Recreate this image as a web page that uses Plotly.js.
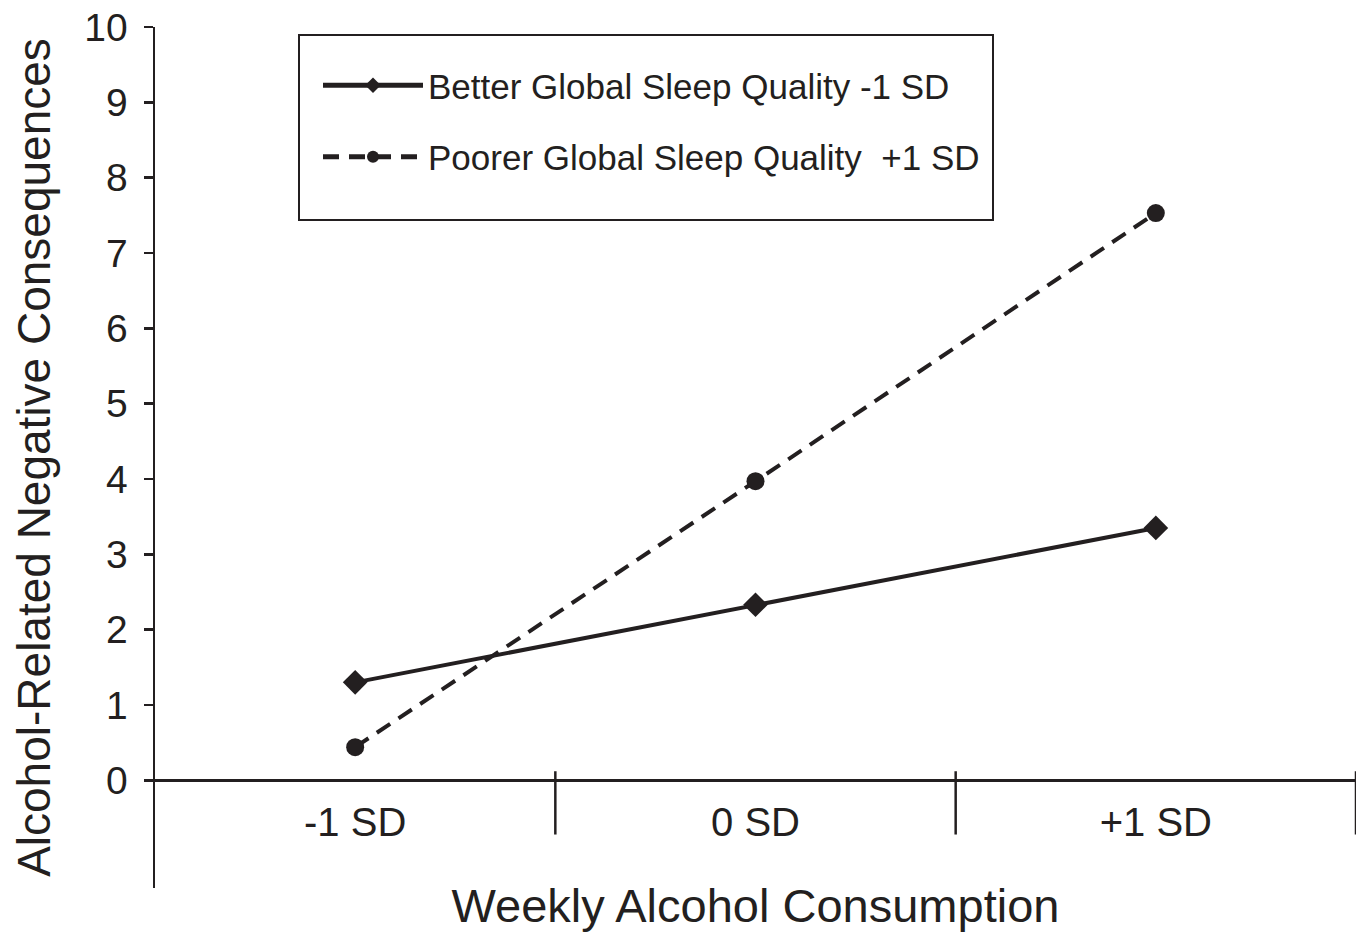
<!DOCTYPE html>
<html>
<head>
<meta charset="utf-8">
<script src="https://cdn.plot.ly/plotly-3.0.1.min.js"></script>
<style>html,body{margin:0;padding:0;background:#fff;}#chart{width:1363px;height:939px;}</style>
</head>
<body>
<div id="chart"></div>
<script>
// Data
const categories = ["-1 SD", "0 SD", "+1 SD"];
const categoryPos = [0, 1, 2];
const betterSleep = [1.30, 2.33, 3.35];
const poorerSleep = [0.44, 3.97, 7.53];
const seriesNames = ["Better Global Sleep Quality -1 SD", "Poorer Global Sleep Quality \u00a0+1 SD"];
const yTicks = [0, 1, 2, 3, 4, 5, 6, 7, 8, 9, 10];
const separators = [0.5, 1.5, 2.5];

const ink = "#231f20";
const font = "Liberation Sans, Arial, Helvetica, sans-serif";

const traces = [
  {
    x: categoryPos, y: betterSleep, name: seriesNames[0], legendgroup: "g1",
    type: "scatter", mode: "lines+markers",
    line: {color: ink, width: 4},
    marker: {symbol: "diamond", size: 19, color: ink}
  },
  {
    x: categoryPos, y: poorerSleep, name: seriesNames[1], legendgroup: "g2",
    type: "scatter", mode: "lines+markers",
    line: {color: ink, width: 4, dash: "16px,10px"},
    marker: {symbol: "circle", size: 18, color: ink}
  }
];

const yMin = -1.43;
const y0frac = (0 - yMin) / (10 - yMin);

const shapes = separators.map(s => ({
  type: "line", xref: "x", yref: "y", x0: s, x1: s, y0: 0.12, y1: -0.72,
  line: {color: ink, width: 2.5}
}));
shapes.push({
  type: "rect", xref: "paper", yref: "paper",
  x0: (299 - 155) / 1201, x1: (993 - 155) / 1201,
  y0: (888 - 220) / 861, y1: (888 - 35) / 861,
  line: {color: ink, width: 2}, fillcolor: "rgba(0,0,0,0)"
});

const layout = {
  width: 1363, height: 939,
  margin: {l: 155, r: 7, t: 27, b: 51},
  paper_bgcolor: "#fff", plot_bgcolor: "#fff",
  font: {family: font, color: ink},
  showlegend: true,
  legend: {
    x: (318 - 155) / 1201, y: (888 - 56) / 861, xanchor: "left", yanchor: "top",
    bgcolor: "rgba(0,0,0,0)", borderwidth: 0,
    font: {family: font, size: 35, color: ink},
    itemwidth: 100, tracegroupgap: 23, itemsizing: "constant"
  },
  xaxis: {
    range: [-0.5, 2.5],
    tickvals: categoryPos, ticktext: categories,
    anchor: "free", position: y0frac,
    showline: true, linecolor: ink, linewidth: 2.5,
    ticks: "outside", ticklen: 6, tickcolor: "rgba(0,0,0,0)",
    showgrid: false, zeroline: false,
    tickfont: {family: font, size: 40, color: ink},
    title: {text: "Weekly Alcohol Consumption", font: {family: font, size: 47, color: ink}, standoff: 46}
  },
  yaxis: {
    range: [yMin, 10],
    tickvals: yTicks,
    showline: true, linecolor: ink, linewidth: 2.5,
    ticks: "outside", ticklen: 9, tickwidth: 2.5, tickcolor: ink,
    showgrid: false, zeroline: false,
    tickfont: {family: font, size: 39, color: ink},
    ticklabelstandoff: 8,
    title: {text: "Alcohol-Related Negative Consequences", font: {family: font, size: 46, color: ink}, standoff: 19}
  },
  shapes: shapes
};

Plotly.newPlot("chart", traces, layout, {displayModeBar: false, staticPlot: true});
</script>
</body>
</html>
